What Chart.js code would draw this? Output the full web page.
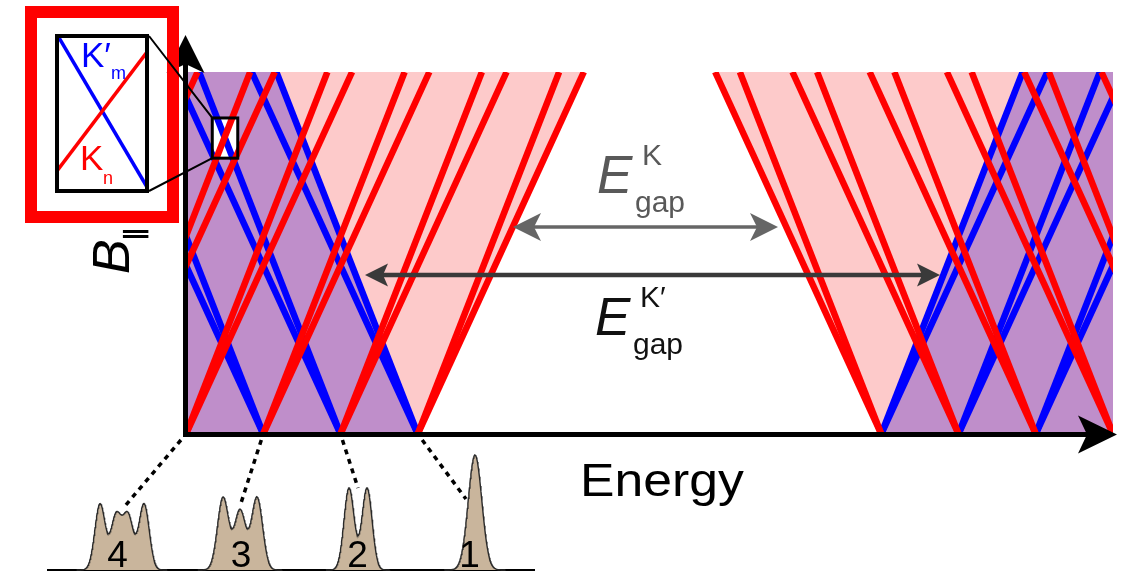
<!DOCTYPE html>
<html>
<head>
<meta charset="utf-8">
<script src="https://cdn.jsdelivr.net/npm/chart.js@4.4.1/dist/chart.umd.min.js"></script>
<style>
  html, body { margin: 0; padding: 0; background: #fff; }
  #wrap { position: relative; width: 1128px; height: 577px; overflow: hidden; }
  #main { position: absolute; left: 0; top: 0; }
  #peaks { position: absolute; left: 40px; top: 440px; }
</style>
</head>
<body>
<div id="wrap">
  <canvas id="main" width="1128" height="577"></canvas>
  <canvas id="peaks" width="500" height="137"></canvas>
</div>
<script>
// Landau level energies at B = 0 (K fan on the left, K' fan on the right)
const leftLevels = [3, 2, 1, 0, -1, -2];
const rightLevels = [9, 10, 11, 12, 13, 14];
const slopes = [1.83, 2.15]; // dE/dB of the two branches of every level
const energyMax = 12;
const bMax = 1;

// region shown magnified in the inset (energy, B)
const zoomE = [0.34, 0.67];
const zoomB = [0.762, 0.873];

// peaks drawn under the axis
const peakLabels = ["4", "3", "2", "1"];
const peakCenters = [[100, 116, 128, 144], [223, 240, 257], [349, 367], [475]];
const peakHeights = [[66, 53.5, 53.5, 66], [72.5, 59.4, 72.5], [82, 82], [115]];
const peakWidths = [5.2, 5.6, 5.1, 6.8];
const labelX = [117.5, 241, 357.5, 469.5];

const RED = "#ff0000";
const BLUE = "#0000ff";
const PINK = "#fdcaca";
const PURPLE = "#bf8eca";

const makeLine = (e0, slope, color, order) => ({
  data: [{ x: e0, y: 0 }, { x: e0 + slope * bMax, y: bMax }],
  borderColor: color,
  borderWidth: 6.5,
  pointRadius: 0,
  fill: false,
  clip: 0,
  order: order,
});

const makeArea = (points, fill, color) => ({
  data: points,
  borderColor: "transparent",
  borderWidth: 0,
  backgroundColor: color,
  pointRadius: 0,
  fill: fill,
  clip: 0,
  order: 3,
});

const kIn = leftLevels[0];
const kpIn = rightLevels[0];
const datasets = [
  makeArea([{ x: -1, y: bMax }, { x: kIn - slopes[0] * bMax, y: bMax }, { x: kIn, y: 0 }], "start", PURPLE),
  makeArea([{ x: kpIn, y: 0 }, { x: kpIn + slopes[0] * bMax, y: bMax }, { x: energyMax + 1, y: bMax }], "start", PURPLE),
  makeArea([{ x: -1, y: 0 }, { x: kIn, y: 0 }, { x: kIn + slopes[1] * bMax, y: bMax }], "end", PINK),
  makeArea([{ x: kpIn - slopes[1] * bMax, y: bMax }, { x: kpIn, y: 0 }, { x: energyMax + 1, y: 0 }], "end", PINK),
];
leftLevels.forEach((l) => slopes.forEach((s) => datasets.push(makeLine(l, -s, BLUE, 2))));
rightLevels.forEach((l) => slopes.forEach((s) => datasets.push(makeLine(l, s, BLUE, 2))));
leftLevels.forEach((l) => slopes.forEach((s) => datasets.push(makeLine(l, s, RED, 1))));
rightLevels.forEach((l) => slopes.forEach((s) => datasets.push(makeLine(l, -s, RED, 1))));

function arrowHead(ctx, tx, ty, dx, dy, len, half, notch, color) {
  const px = -dy, py = dx;
  ctx.fillStyle = color;
  ctx.beginPath();
  ctx.moveTo(tx, ty);
  ctx.lineTo(tx - dx * len + px * half, ty - dy * len + py * half);
  ctx.lineTo(tx - dx * (len - notch), ty - dy * (len - notch));
  ctx.lineTo(tx - dx * len - px * half, ty - dy * len - py * half);
  ctx.closePath();
  ctx.fill();
}

function doubleArrow(ctx, x1, x2, yy, color, lw, len, half, notch) {
  ctx.strokeStyle = color;
  ctx.lineWidth = lw;
  ctx.beginPath();
  ctx.moveTo(x1 + len - notch, yy);
  ctx.lineTo(x2 - len + notch, yy);
  ctx.stroke();
  arrowHead(ctx, x1, yy, -1, 0, len, half, notch, color);
  arrowHead(ctx, x2, yy, 1, 0, len, half, notch, color);
}

function gapLabel(ctx, color, x, base, sup) {
  ctx.fillStyle = color;
  ctx.textAlign = "left";
  ctx.textBaseline = "alphabetic";
  ctx.font = 'italic 53px "Liberation Sans"';
  ctx.fillText("E", x, base);
  ctx.font = '30px "Liberation Sans"';
  ctx.fillText(sup, x + 45, base - 28);
  ctx.fillText("gap", x + 38, base + 19);
}

const decorations = {
  id: "decorations",
  afterDatasetDraw(chart, args) {
    if (args.index !== 0) return;
    const { ctx, scales: { x, y } } = chart;
    ctx.save();
    ctx.fillStyle = "#fff";
    const l = x.getPixelForValue(zoomE[0]), r = x.getPixelForValue(zoomE[1]);
    const t = y.getPixelForValue(zoomB[1]), b = y.getPixelForValue(zoomB[0]);
    ctx.fillRect(l, t, r - l, b - t);
    ctx.restore();
  },
  afterDraw(chart) {
    const { ctx, scales: { x, y } } = chart;
    const x0 = x.getPixelForValue(0);
    const y0 = y.getPixelForValue(0);
    ctx.save();

    // magnified box outline
    const l = x.getPixelForValue(zoomE[0]), r = x.getPixelForValue(zoomE[1]);
    const t = y.getPixelForValue(zoomB[1]), b = y.getPixelForValue(zoomB[0]);
    ctx.strokeStyle = "#000";
    ctx.lineWidth = 3;
    ctx.strokeRect(l, t, r - l, b - t);

    // axes
    ctx.strokeStyle = "#000";
    ctx.lineWidth = 5;
    ctx.beginPath();
    ctx.moveTo(x0 - 0.5, y0 + 3);
    ctx.lineTo(x0 - 0.5, 50);
    ctx.moveTo(x0 - 3, y0 + 0.5);
    ctx.lineTo(1095, y0 + 0.5);
    ctx.stroke();
    arrowHead(ctx, x0 - 0.5, 35, 0, -1, 38, 19, 9, "#000");
    arrowHead(ctx, 1117, y0 + 0.5, 1, 0, 39, 19, 9, "#000");

    // inset
    ctx.strokeStyle = RED;
    ctx.lineWidth = 12;
    ctx.strokeRect(31, 12, 142, 205);
    ctx.save();
    ctx.beginPath();
    ctx.rect(57, 36, 90, 155);
    ctx.clip();
    ctx.lineWidth = 3.5;
    ctx.strokeStyle = BLUE;
    ctx.beginPath();
    ctx.moveTo(58, 36);
    ctx.lineTo(147, 187);
    ctx.stroke();
    ctx.strokeStyle = RED;
    ctx.beginPath();
    ctx.moveTo(57, 171);
    ctx.lineTo(147, 52);
    ctx.stroke();
    ctx.restore();
    ctx.strokeStyle = "#000";
    ctx.lineWidth = 4;
    ctx.strokeRect(57, 36, 90, 155);
    ctx.textBaseline = "alphabetic";
    ctx.textAlign = "left";
    ctx.fillStyle = BLUE;
    ctx.font = '35px "Liberation Sans"';
    ctx.fillText("K\u2032", 81, 67);
    ctx.font = '18px "Liberation Sans"';
    ctx.fillText("m", 111, 79);
    ctx.fillStyle = RED;
    ctx.font = '35px "Liberation Sans"';
    ctx.fillText("K", 80, 170);
    ctx.font = '18px "Liberation Sans"';
    ctx.fillText("n", 103, 184);

    // connectors to the magnified box
    ctx.strokeStyle = "#000";
    ctx.lineWidth = 2;
    ctx.beginPath();
    ctx.moveTo(149, 36);
    ctx.lineTo(l, t);
    ctx.moveTo(149, 191);
    ctx.lineTo(l, b);
    ctx.stroke();

    // axis titles
    ctx.fillStyle = "#000";
    ctx.save();
    ctx.translate(129, 274);
    ctx.rotate(-Math.PI / 2);
    ctx.font = 'italic 52px "Liberation Sans"';
    ctx.fillText("B", 0, 0);
    ctx.font = 'bold 26px "DejaVu Sans"';
    ctx.fillText("\u2225", 33, 14);
    ctx.restore();

    ctx.save();
    ctx.translate(662, 496);
    ctx.scale(1.1, 1);
    ctx.font = '47px "Liberation Sans"';
    ctx.textAlign = "center";
    ctx.fillText("Energy", 0, 0);
    ctx.restore();

    // gap labels and arrows
    gapLabel(ctx, "#595959", 597, 193, "K");
    gapLabel(ctx, "#111", 595, 335, "K\u2032");
    doubleArrow(ctx, 513, 778, 227, "#666", 3.5, 28, 14, 7);
    doubleArrow(ctx, 365, 940, 275, "#3a3a3a", 4.5, 23, 11.5, 5);

    // dotted links from the B = 0 levels to the peaks
    const linkEnds = [[125, 506], [241, 503], [358, 488], [466, 499]];
    ctx.setLineDash([5, 5]);
    ctx.lineWidth = 3.5;
    ctx.strokeStyle = "#000";
    [0, 1, 2, 3].forEach((lv, i) => {
      const sx = x.getPixelForValue(lv);
      const [ex, ey] = linkEnds[i];
      const dx = ex - sx, dy = ey - y0;
      const k = 6 / dy;
      ctx.beginPath();
      ctx.moveTo(sx + dx * k, y0 + 6);
      ctx.lineTo(ex, ey);
      ctx.stroke();
    });
    ctx.setLineDash([]);
    ctx.restore();
  },
};

new Chart(document.getElementById("main"), {
  type: "line",
  data: { datasets: datasets },
  options: {
    responsive: false,
    animation: false,
    events: [],
    layout: { padding: { left: 186, right: 15, top: 72, bottom: 143 } },
    scales: {
      x: { type: "linear", min: 0, max: energyMax, display: false },
      y: { type: "linear", min: 0, max: bMax, display: false },
    },
    plugins: { legend: { display: false }, tooltip: { enabled: false } },
  },
  plugins: [decorations],
});

// peaks
function peakCurve(g) {
  const cs = peakCenters[g], hs = peakHeights[g], w = peakWidths[g];
  const lo = Math.min(...cs) - 4.5 * w, hi = Math.max(...cs) + 4.5 * w;
  const pts = [];
  for (let xv = lo; xv <= hi + 1e-9; xv += 0.5) {
    let yv = 0;
    cs.forEach((c, i) => { yv += hs[i] * Math.exp(-((xv - c) ** 2) / (2 * w * w)); });
    pts.push({ x: xv, y: yv });
  }
  return pts;
}

const peakSets = peakLabels.map((lab, g) => ({
  label: lab,
  data: peakCurve(g),
  borderColor: "#2a2a2a",
  borderWidth: 1.4,
  backgroundColor: "#c9b59c",
  pointRadius: 0,
  fill: "origin",
  clip: false,
}));
peakSets.push({
  data: [{ x: 47, y: 0 }, { x: 535, y: 0 }],
  borderColor: "#000",
  borderWidth: 2,
  pointRadius: 0,
  fill: false,
  clip: false,
});

const peakNumbers = {
  id: "peakNumbers",
  afterDatasetsDraw(chart) {
    const { ctx, scales: { x, y } } = chart;
    ctx.save();
    ctx.fillStyle = "#000";
    ctx.font = '37px "Liberation Sans"';
    ctx.textAlign = "center";
    ctx.textBaseline = "alphabetic";
    peakLabels.forEach((lab, i) => ctx.fillText(lab, x.getPixelForValue(labelX[i]), y.getPixelForValue(3)));
    ctx.restore();
  },
};

new Chart(document.getElementById("peaks"), {
  type: "line",
  data: { datasets: peakSets },
  options: {
    responsive: false,
    animation: false,
    events: [],
    layout: { padding: { left: 0, right: 0, top: 0, bottom: 7 } },
    scales: {
      x: { type: "linear", min: 40, max: 540, display: false },
      y: { type: "linear", min: 0, max: 130, display: false },
    },
    plugins: { legend: { display: false }, tooltip: { enabled: false } },
  },
  plugins: [peakNumbers],
});
</script>
</body>
</html>
